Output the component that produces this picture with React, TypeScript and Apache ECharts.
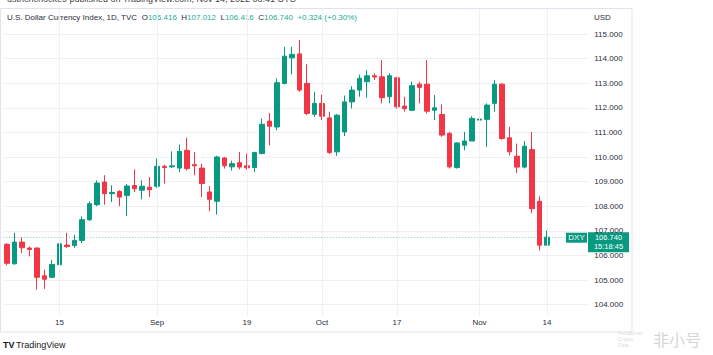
import React, { useEffect, useRef } from "react";
import * as echarts from "echarts";

const dates = [
  "Aug 4", "Aug 5", "Aug 8", "Aug 9", "Aug 10", "Aug 11", "Aug 12", "Aug 15", "Aug 16", "Aug 17",
  "Aug 18", "Aug 19", "Aug 22", "Aug 23", "Aug 24", "Aug 25", "Aug 26", "Aug 29", "Aug 30", "Aug 31",
  "Sep 1", "Sep 2", "Sep 5", "Sep 6", "Sep 7", "Sep 8", "Sep 9", "Sep 12", "Sep 13", "Sep 14",
  "Sep 15", "Sep 16", "Sep 19", "Sep 20", "Sep 21", "Sep 22", "Sep 23", "Sep 26", "Sep 27", "Sep 28",
  "Sep 29", "Sep 30", "Oct 3", "Oct 4", "Oct 5", "Oct 6", "Oct 7", "Oct 10", "Oct 11", "Oct 12",
  "Oct 13", "Oct 14", "Oct 17", "Oct 18", "Oct 19", "Oct 20", "Oct 21", "Oct 24", "Oct 25", "Oct 26",
  "Oct 27", "Oct 28", "Oct 31", "Nov 1", "Nov 2", "Nov 3", "Nov 4", "Nov 7", "Nov 8", "Nov 9",
  "Nov 10", "Nov 11", "Nov 14",
];
const futureSlots = ["Nov 15", "Nov 16", "Nov 17", "Nov 18", "Nov 21"];

const opens = [
  106.45, 105.66, 106.54, 106.3, 106.3, 105.17, 105.11, 105.62, 106.42, 106.4,
  106.61, 107.45, 108.06, 108.98, 108.51, 108.6, 108.44, 108.84, 108.65, 108.77,
  108.81, 109.62, 109.6, 109.55, 110.27, 109.69, 109.55, 108.58, 108.2, 109.96,
  109.6, 109.77, 109.64, 109.57, 110.14, 111.46, 111.22, 112.99, 114.03, 114.19,
  112.99, 111.74, 112.18, 111.59, 110.21, 111.02, 112.24, 112.72, 113.06, 113.3,
  113.26, 112.45, 113.22, 112.07, 111.9, 112.96, 112.96, 111.9, 111.73, 110.96,
  109.57, 110.48, 110.65, 111.5, 111.53, 112.18, 112.96, 110.78, 110.03, 109.59,
  110.3, 108.2, 106.416,
];
const closes = [
  105.68, 106.54, 106.31, 106.24, 105.11, 105.03, 105.63, 106.47, 106.36, 106.61,
  107.45, 108.1, 108.94, 108.51, 108.56, 108.37, 108.82, 108.71, 108.81, 108.67,
  109.62, 109.57, 109.64, 110.23, 109.53, 109.64, 108.92, 108.28, 110.0, 109.64,
  109.73, 109.59, 109.56, 110.18, 111.33, 111.25, 113.02, 114.1, 114.17, 112.72,
  111.77, 112.18, 111.66, 110.18, 111.7, 112.24, 112.72, 113.2, 113.3, 113.25,
  112.41, 113.3, 112.04, 111.96, 112.9, 112.83, 111.86, 112.0, 110.89, 109.6,
  110.57, 110.65, 111.57, 111.54, 112.11, 112.96, 110.75, 110.21, 109.59, 110.44,
  107.9, 106.416, 106.74,
];
const highs = [
  106.5, 106.92, 106.74, 106.36, 106.32, 105.42, 105.82, 106.52, 106.92, 106.84,
  107.59, 108.2, 109.05, 109.26, 108.85, 108.65, 108.9, 109.49, 109.05, 109.19,
  109.94, 109.69, 110.23, 110.5, 110.78, 110.2, 109.73, 108.82, 110.05, 110.0,
  109.85, 110.2, 110.14, 110.22, 111.57, 111.79, 113.2, 114.48, 114.48, 114.76,
  113.77, 112.65, 112.54, 111.84, 111.75, 112.5, 112.88, 113.35, 113.53, 113.4,
  113.94, 113.4, 113.26, 112.45, 113.06, 113.06, 113.94, 112.52, 112.14, 111.02,
  110.6, 111.02, 111.66, 111.8, 112.18, 113.13, 113.0, 111.22, 110.55, 110.65,
  111.02, 108.4, 107.012,
];
const lows = [
  105.6, 105.62, 106.09, 105.96, 104.6, 104.64, 105.07, 105.58, 106.3, 106.31,
  106.5, 107.4, 108.0, 108.06, 108.17, 108.0, 107.6, 108.58, 108.28, 108.37,
  108.75, 108.92, 109.55, 109.39, 109.45, 109.26, 108.37, 107.79, 107.66, 109.53,
  109.45, 109.5, 109.49, 109.39, 110.11, 110.48, 111.09, 112.95, 113.36, 112.65,
  111.7, 111.63, 111.5, 110.12, 110.05, 110.85, 111.97, 112.45, 112.41, 113.13,
  112.18, 112.18, 111.97, 111.84, 111.86, 112.18, 111.77, 111.5, 110.82, 109.53,
  109.53, 110.27, 110.65, 110.7, 110.41, 111.84, 110.7, 110.07, 109.35, 109.53,
  107.72, 106.2, 106.416,
];

const timeLabelDates = ["Aug 15", "Sep 1", "Sep 19", "Oct 3", "Oct 17", "Nov 1", "Nov 14"];
const timeLabelTexts = ["15", "Sep", "19", "Oct", "17", "Nov", "14"];

const UP = "#089981";
const DOWN = "#f23645";
const TEXT = "#2a2e39";
const FONT = "'Liberation Sans', Arial, sans-serif";

export default function App() {
  const ref = useRef<HTMLDivElement>(null);

  useEffect(() => {
    if (!ref.current) return;
    const chart = echarts.init(ref.current, null, { renderer: "svg" });
    const cats = [...dates, ...futureSlots];
    const candles = dates.map((_, i) => [opens[i], closes[i], lows[i], highs[i]]);
    const last = closes[closes.length - 1];
    const first = opens[opens.length - 1];
    const high = highs[highs.length - 1];
    const low = lows[lows.length - 1];
    const prevClose = closes[closes.length - 2];
    const chg = last - prevClose;
    const chgPct = (chg / prevClose) * 100;

    chart.setOption({
      animation: false,
      textStyle: { fontFamily: FONT },
      grid: { left: 3.25, right: 713 - 588.25, top: 9.4, bottom: 355 - 329.2, containLabel: false },
      xAxis: {
        type: "category",
        data: cats,
        boundaryGap: true,
        axisLine: { show: false },
        axisTick: { show: false },
        splitLine: { show: false },
        axisLabel: {
          interval: (_i: number, v: string) => timeLabelDates.includes(v),
          formatter: (v: string) => {
            const k = timeLabelDates.indexOf(v);
            return k >= 0 ? timeLabelTexts[k] : "";
          },
          margin: -11,
          color: TEXT,
          fontSize: 8,
          fontFamily: FONT,
        },
      },
      yAxis: {
        type: "value",
        position: "right",
        min: 103,
        max: 116,
        interval: 1,
        axisLine: { show: false },
        axisTick: { show: false },
        axisLabel: {
          formatter: (v: number) => v.toFixed(3),
          margin: 6,
          color: TEXT,
          fontSize: 8,
          fontFamily: FONT,
          showMinLabel: false,
          showMaxLabel: false,
        },
        splitLine: {
          show: true,
          showMinLine: false,
          showMaxLine: false,
          lineStyle: { color: "#eef0f5", width: 1 },
        },
      },
      series: [
        {
          type: "line",
          data: [],
          z: 1,
          silent: true,
          markLine: {
            silent: true,
            symbol: "none",
            label: { show: false },
            lineStyle: { color: "#eef0f5", type: "solid", width: 1 },
            data: timeLabelDates.map((d) => [{ coord: [d, 116] }, { coord: [d, 103.55] }]),
          },
        },
        {
          type: "candlestick",
          data: candles,
          barWidth: 5.4,
          z: 2,
          itemStyle: {
            color: UP,
            color0: DOWN,
            borderColor: UP,
            borderColor0: DOWN,
            borderWidth: 1,
          },
          markLine: {
            silent: true,
            symbol: "none",
            label: { show: false },
            data: [{ yAxis: last, lineStyle: { type: [1, 2], color: UP, width: 1, opacity: 0.5 } }],
          },
        },
      ],
    });

    const py = chart.convertToPixel({ yAxisIndex: 0 }, last) as number;
    const fmt = (v: number) => v.toFixed(3);
    const sign = chg >= 0 ? "+" : "";

    chart.setOption({
      graphic: [
        {
          type: "text",
          left: 7,
          top: -6,
          style: {
            text: "ustrichchocke9 published on TradingView.com, Nov 14, 2022 08:41 UTC",
            fontSize: 9,
            fontFamily: FONT,
            fill: "#444",
          },
        },
        {
          type: "rect",
          shape: { x: 0.5, y: 8.5, width: 631.5, height: 323.5 },
          style: { fill: "none", stroke: "#e0e3eb", lineWidth: 1 },
          silent: true,
        },
        {
          type: "text",
          x: 7,
          y: 17,
          style: {
            text:
              "{t|U.S. Dollar Currency Index, 1D, TVC}  {t|O}{g|" + fmt(first) + "}  {t|H}{g|" + fmt(high) +
              "}  {t|L}{g|" + fmt(low) + "}  {t|C}{g|" + fmt(last) + "}  {g|" + sign + chg.toFixed(3) +
              " (" + sign + chgPct.toFixed(2) + "%)}",
            verticalAlign: "middle",
            fontSize: 8,
            fontFamily: FONT,
            rich: {
              t: { fill: TEXT, fontSize: 8, fontFamily: FONT },
              g: { fill: "#22ab94", fontSize: 8, fontFamily: FONT },
            },
          },
        },
        {
          type: "text",
          x: 594,
          y: 17,
          style: { text: "USD", fontSize: 8, fontFamily: FONT, fill: TEXT, verticalAlign: "middle" },
        },
        {
          type: "rect",
          shape: { x: 566, y: py - 4.5, width: 21, height: 10 },
          style: { fill: UP },
        },
        {
          type: "text",
          x: 576.5,
          y: py + 0.5,
          style: { text: "DXY", fontSize: 8, lineHeight: 8, fontFamily: FONT, fill: "#fff", align: "center", verticalAlign: "middle" },
        },
        {
          type: "rect",
          shape: { x: 588, y: py - 5, width: 41, height: 20 },
          style: { fill: UP },
        },
        {
          type: "text",
          x: 608.5,
          y: py + 0.5,
          style: { text: fmt(last), fontSize: 7.5, lineHeight: 8, fontFamily: FONT, fill: "#fff", align: "center", verticalAlign: "middle" },
        },
        {
          type: "text",
          x: 608.5,
          y: py + 9.5,
          style: { text: "15:18:45", fontSize: 7.5, lineHeight: 8, fontFamily: FONT, fill: "#fff", align: "center", verticalAlign: "middle" },
        },
        {
          type: "text",
          x: 3,
          y: 345,
          style: { text: "TV", fontSize: 9, fontWeight: 900, fontFamily: FONT, fill: "#131722", verticalAlign: "middle" },
        },
        {
          type: "text",
          x: 16,
          y: 345,
          style: { text: "TradingView", fontSize: 9, fontFamily: FONT, fill: "#131722", verticalAlign: "middle" },
        },
        {
          type: "text",
          x: 653,
          y: 339,
          style: { text: "非小号", fontSize: 16, fontFamily: "'Noto Sans CJK SC', sans-serif", fill: "#d6d6d6", verticalAlign: "middle" },
        },
        {
          type: "text",
          x: 618,
          y: 339,
          style: { text: "Feixiaohao\nCrypto\nData", fontSize: 5, lineHeight: 6, fontFamily: FONT, fill: "#dcdcdc", verticalAlign: "middle" },
        },
      ],
    });

    return () => chart.dispose();
  }, []);

  return (
    <div
      ref={ref}
      style={{ position: "fixed", left: 0, top: 0, width: 713, height: 355, background: "#fff" }}
    />
  );
}
